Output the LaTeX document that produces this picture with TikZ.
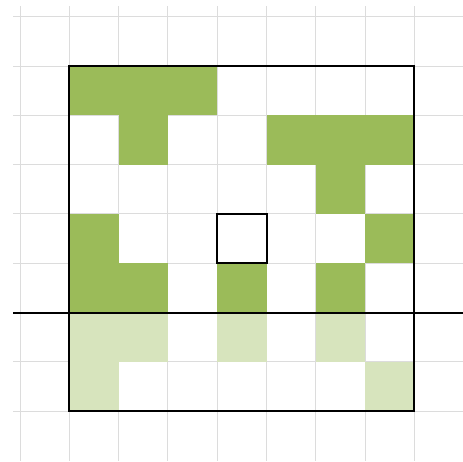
\documentclass[tikz,border=0pt]{standalone}
\definecolor{dkgreen}{HTML}{9BBB59}
\definecolor{ltgreen}{HTML}{D7E4BD}
\definecolor{gridgray}{HTML}{DCDCDC}
\begin{document}
\begin{tikzpicture}[x=1pt,y=-1pt,
  gridline/.style={draw=gridgray,line width=1pt},
  dark/.style={fill=dkgreen},
  light/.style={fill=ltgreen},
  frame/.style={draw=black,line width=2pt}]
\useasboundingbox (0,0) rectangle (463,461);
\def\cs{49.3}
\def\ox{69.3}
\def\oy{66}
% grid
\foreach \k in {0,...,8} {
  \draw[gridline] ({20+\cs*\k},6) -- ({20+\cs*\k},461);
}
\foreach \k in {0,...,8} {
  \draw[gridline] (13,{16.7+\cs*\k}) -- (463,{16.7+\cs*\k});
}
% dark cells (col,row)
\foreach \c/\r in {0/0,1/0,2/0, 1/1,4/1,5/1,6/1, 5/2, 0/3,6/3, 0/4,1/4,3/4,5/4} {
  \fill[dark] ({\ox+\cs*\c},{\oy+\cs*\r}) rectangle ++(\cs,\cs);
}
% light cells
\foreach \c/\r in {0/5,1/5,3/5,5/5, 0/6,6/6} {
  \fill[light] ({\ox+\cs*\c},{\oy+\cs*\r}) rectangle ++(\cs,\cs);
}
% frames
\draw[frame] (\ox,\oy) rectangle ++({7*\cs},{7*\cs});
\draw[frame] ({\ox+3*\cs},{\oy+3*\cs}) rectangle ++(\cs,\cs);
\draw[frame] (13,{\oy+5*\cs}) -- (463,{\oy+5*\cs});
\end{tikzpicture}
\end{document}
